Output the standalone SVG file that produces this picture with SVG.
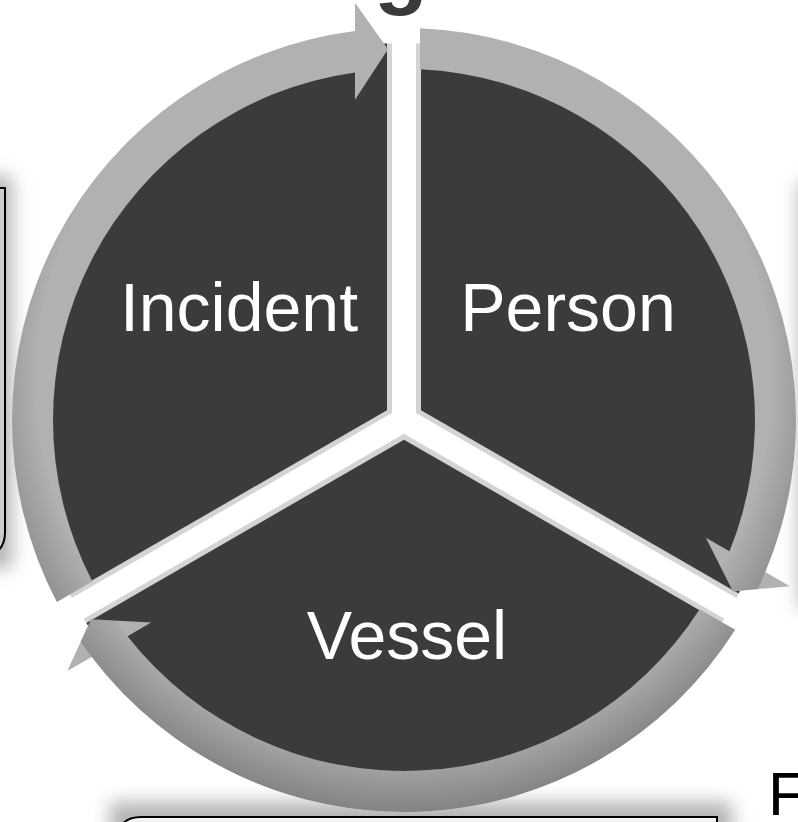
<svg xmlns="http://www.w3.org/2000/svg" xmlns:xlink="http://www.w3.org/1999/xlink" width="798" height="822" viewBox="0 0 798 822">
<style>
.edge{fill:#d4d4d4}
.sector{fill:#3b3b3b}
.label{font-family:"Liberation Sans",Arial,sans-serif;font-size:68px;fill:#ffffff;text-anchor:middle}
.arrow{fill:#b1b1b1}
.shadow{fill:#b3b3b3;filter:url(#soft)}
.box{stroke:#000;stroke-width:2}
</style>
<defs>
<filter id="soft" x="-50%" y="-50%" width="200%" height="200%"><feGaussianBlur stdDeviation="9"/></filter>
<radialGradient id="ringShade" gradientUnits="userSpaceOnUse" cx="404" cy="380" r="432">
<stop offset="0.85" stop-color="#000" stop-opacity="0"/>
<stop offset="1" stop-color="#000" stop-opacity="0.26"/>
</radialGradient>
<path id="arc1" d="M 56.81 601.98 A 392 392 0 0 1 355 31.07 L 355 2.87 L 388 49.35 L 355 99.73 L 355 72.44 A 351 351 0 0 0 92.34 581.46 Z"/>
<path id="arc2" d="M 420 28.33 A 392 392 0 0 1 765.32 572.04 L 789.74 586.14 L 732.99 591.47 L 705.86 537.71 L 729.49 551.35 A 351 351 0 0 0 420 69.36 Z"/>
<path id="arc3" d="M 735.19 629.7 A 392 392 0 0 1 91.68 656.9 L 67.26 671 L 91.01 619.19 L 151.14 622.57 L 127.51 636.21 A 351 351 0 0 0 699.66 609.18 Z"/>
<clipPath id="arrowClip">
<use xlink:href="#arc1"/><use xlink:href="#arc2"/><use xlink:href="#arc3"/>
</clipPath>
</defs>

<g id="background-fragments">
<rect class="shadow" x="-40" y="176" width="52" height="392"/>
<path class="box" fill="#cdcdcd" d="M -20 188 H 5 V 532 Q 5 554 -17 557 L -20 557 Z"/>
<rect class="shadow" x="110" y="802" width="622" height="40"/>
<path class="box" fill="#f4f4f4" d="M 118 850 V 840 Q 118 817 141 817 H 717 V 850"/>
<rect class="shadow" x="799" y="182" width="40" height="425"/>
<text x="401" y="-2.5" font-family="'Liberation Sans',Arial,sans-serif" font-size="88" font-weight="bold" fill="#3a3a3a" text-anchor="middle">g</text>
<text x="768" y="815" font-family="'Liberation Sans',Arial,sans-serif" font-size="62" fill="#000">F</text>
</g>

<g id="node-incident">
<path class="edge" d="M 392 413.07 L 71.67 598.02 A 377 377 0 0 1 392 43.19 Z"/>
<path class="sector" d="M 387 410.18 L 69.34 593.59 A 377 377 0 0 1 387 43.38 Z"/>
<text class="label" x="239" y="331">Incident</text>
</g>

<g id="node-person">
<path class="edge" d="M 416 413.07 L 416 43.19 A 377 377 0 0 1 736.33 598.02 Z"/>
<path class="sector" d="M 421 410.18 L 421 43.38 A 377 377 0 0 1 738.66 593.59 Z"/>
<text class="label" x="568" y="331">Person</text>
</g>

<g id="node-vessel">
<path class="edge" d="M 404 433.86 L 724.33 618.8 A 377 377 0 0 1 83.67 618.8 Z"/>
<path class="sector" d="M 404 439.63 L 721.66 623.03 A 377 377 0 0 1 86.34 623.03 Z"/>
<text class="label" x="407" y="659">Vessel</text>
</g>

<g id="connectors">
<use class="arrow" xlink:href="#arc1"/>
<use class="arrow" xlink:href="#arc2"/>
<use class="arrow" xlink:href="#arc3"/>
<circle cx="404" cy="420" r="371.5" fill="none" stroke="url(#ringShade)" stroke-width="41" clip-path="url(#arrowClip)"/>
</g>
</svg>
